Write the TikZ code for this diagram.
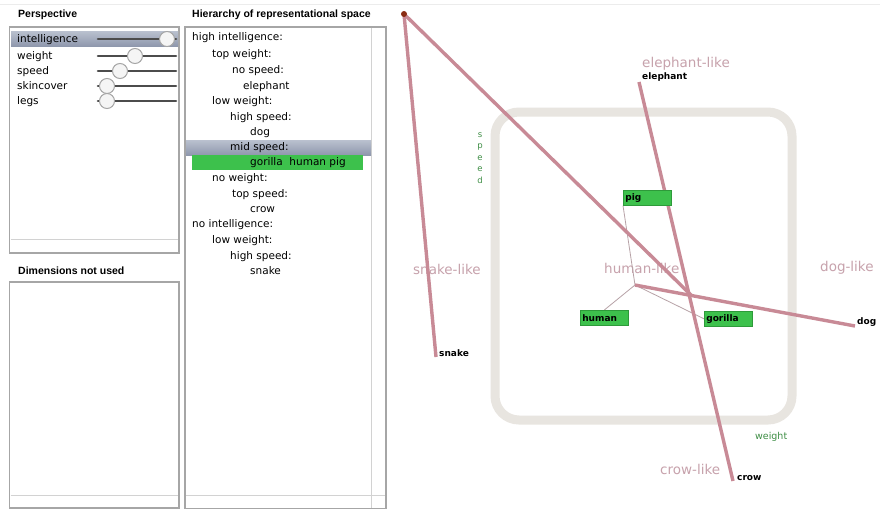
\documentclass[tikz,border=0pt]{standalone}
\usepackage{fontspec}
\setmainfont{DejaVu Sans}
\newfontfamily\titlefont{Liberation Sans}
\usetikzlibrary{backgrounds}
\definecolor{selhi}{HTML}{BAC1CF}
\definecolor{sello}{HTML}{8F98AD}
\definecolor{okgreen}{HTML}{3DC14C}
\definecolor{okedge}{HTML}{2E9A3A}
\definecolor{linkrose}{HTML}{C88A96}
\definecolor{likepink}{HTML}{C7A2AC}
\definecolor{framegray}{HTML}{E8E5E0}
\definecolor{thingray}{HTML}{B7A2A7}
\definecolor{axisgreen}{HTML}{3E8E45}
\definecolor{dotred}{HTML}{8A2C12}
\tikzset{
  paneltitle/.style={anchor=west, inner sep=0pt, font=\titlefont\bfseries\fontsize{10.5}{12}\selectfont},
  listtext/.style={anchor=west, inner sep=0pt, text height=1.4ex, text depth=.3ex, font=\fontsize{10.5}{12}\selectfont},
  panel/.style={draw=gray!70, line width=1.2pt},
  strip/.style={draw=gray!35, line width=1pt},
  track/.style={draw=black!70, line width=2.6pt, line cap=round},
  knob/.style={circle, draw=gray!70, fill=gray!8, line width=1pt, minimum size=15pt, inner sep=0pt},
  hitbox/.style={anchor=north west, fill=okgreen, draw=okedge, line width=.6pt, minimum height=15pt, text width=44pt, inner sep=2pt, align=left, font=\bfseries\fontsize{9}{10}\selectfont},
  animal/.style={anchor=west, inner sep=0pt, font=\bfseries\fontsize{9}{10}\selectfont},
  likelabel/.style={anchor=west, inner sep=0pt, text=likepink, font=\fontsize{13.5}{15}\selectfont},
  axislabel/.style={inner sep=0pt, text=axisgreen},
  link/.style={draw=linkrose, line width=3.4pt},
  thinlink/.style={draw=thingray, line width=.8pt}
}
\begin{document}
\begin{tikzpicture}[x=1pt,y=-1pt]
  \useasboundingbox (0,0) rectangle (880,509);
  \draw[gray!15, line width=1pt] (0,4) -- (880,4);
  % perspective
  \node[paneltitle] (persp) at (18,15) {Perspective};
  \draw[panel] (9.5,27) rectangle (179,253);
  \draw[strip] (10.5,239) -- (178,239);
  \shade[top color=selhi, bottom color=sello] (11,31) rectangle (178,46);
  \begin{scope}[every node/.style=listtext]
    \path
      (17,39) node (p1){intelligence}
      (17,56) node (p2){weight}
      (17,71) node (p3){speed}
      (17,86) node (p4){skincover}
      (17,101) node (p5){legs};
  \end{scope}
  \draw[track] (98,39) -- (176,39);
  \draw[track] (98,56) -- (176,56);
  \draw[track] (98,71) -- (176,71);
  \draw[track] (98,86) -- (176,86);
  \draw[track] (98,101) -- (176,101);
  \node[knob] (k1) at (167,39) {};
  \node[knob] (k2) at (135,56) {};
  \node[knob] (k3) at (120,71) {};
  \node[knob] (k4) at (107,86) {};
  \node[knob] (k5) at (107,101) {};
  % dimensions not used
  \node[paneltitle] (unused) at (18,271) {Dimensions not used};
  \draw[panel] (9.5,282) rectangle (179,508);
  \draw[strip] (10.5,495) -- (178,495);
  % hierarchy
  \node[paneltitle] (hier) at (192,15) {Hierarchy of representational space};
  \draw[panel] (185,27) rectangle (386,508.5);
  \draw[strip] (371,28) -- (371,508);
  \draw[strip] (186,495) -- (385,495);
  \shade[top color=selhi, bottom color=sello] (186,140) rectangle (371,155);
  \fill[okgreen] (192,155) rectangle (363,170);
  \begin{scope}[every node/.style=listtext]
    \path
      (192,37) node (h1){high intelligence:}
      (212,54) node (h2){top weight:}
      (232,70) node (h3){no speed:}
      (243,86) node (h4){elephant}
      (212,101) node (h5){low weight:}
      (230,117) node (h6){high speed:}
      (250,132) node (h7){dog}
      (230,147) node (h8){mid speed:}
      (250,162.5) node (h9){gorilla\ \ human pig}
      (212,178) node (h10){no weight:}
      (232,194) node (h11){top speed:}
      (250,209) node (h12){crow}
      (192,224) node (h13){no intelligence:}
      (212,240) node (h14){low weight:}
      (230,256) node (h15){high speed:}
      (250,271) node (h16){snake};
  \end{scope}
  % space
  \node[hitbox] (pig) at (623,190) {pig};
  \node[hitbox] (human) at (580,310) {human};
  \node[hitbox] (gorilla) at (704,311) {gorilla};
  \path
    (404,14) coordinate (o)
    (635,285) coordinate (hub)
    (692,296) coordinate (cross)
    (436,357) coordinate (snakeend)
    (639,82) coordinate (elephantend)
    (733,481) coordinate (crowend)
    (855,326) coordinate (dogend);
  \path
    (642,77) node[animal] (elephant){elephant}
    (439,353) node[animal] (snake){snake}
    (737,478) node[animal] (crow){crow}
    (857,322) node[animal] (dog){dog};
  \node[axislabel, align=center, font=\fontsize{8.5}{11.5}\selectfont] (speedaxis) at (480,158) {s\\p\\e\\e\\d};
  \node[axislabel, anchor=west, font=\fontsize{9.5}{11}\selectfont] (weightaxis) at (755,437) {weight};
  \fill[dotred] (o) circle (3);
  \begin{scope}[on background layer]
    \fill[white] (0,0) rectangle (880,509);
    \draw[framegray, line width=9pt, rounded corners=24pt] (495,112) rectangle (792,420);
    \path
      (642,64) node[likelabel] (elephantlike){elephant-like}
      (413,269) node[likelabel] (snakelike){snake-like}
      (604,268) node[likelabel] (humanlike){human-like}
      (820,268) node[likelabel] (doglike){dog-like}
      (660,469) node[likelabel] (crowlike){crow-like};
    \begin{scope}[thinlink]
      \draw (hub) to (pig.south west);
      \draw (hub) to (human.north);
      \draw (hub) to (gorilla.west);
    \end{scope}
    \begin{scope}[link]
      \draw (o) to (snakeend);
      \draw (o) to (cross);
      \draw (elephantend) to (crowend);
      \draw (hub) to (dogend);
    \end{scope}
  \end{scope}
\end{tikzpicture}
\end{document}
